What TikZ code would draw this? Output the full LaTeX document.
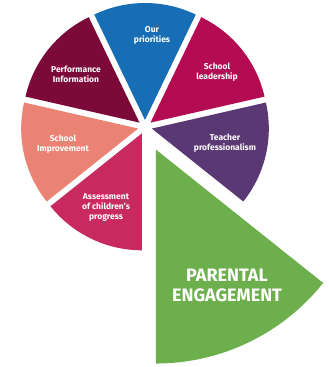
\documentclass[tikz,border=0pt]{standalone}
\usepackage{fontspec}
\setsansfont{Fira Sans}
\usetikzlibrary{calc}

\definecolor{ourblue}{RGB}{24,110,180}
\definecolor{leadred}{RGB}{180,12,82}
\definecolor{teachpurple}{RGB}{90,56,116}
\definecolor{parentgreen}{RGB}{108,175,76}
\definecolor{assesspink}{RGB}{200,42,96}
\definecolor{improvesalmon}{RGB}{234,131,116}
\definecolor{perfmaroon}{RGB}{124,10,56}

\begin{document}
\begin{tikzpicture}[x=1pt,y=1pt]
\tikzset{
slice/.style={draw=none},
mylabel/.style={text=white, font=\sffamily\bfseries\fontsize{8.5}{10}\selectfont, align=center, inner sep=0pt},
biglabel/.style={text=white, font=\sffamily\bfseries\fontsize{18}{20}\selectfont, align=center, inner sep=0pt},
}
\useasboundingbox (0,0) rectangle (329,-367);
\coordinate (c) at (145,-127);

% small slices, each pushed out a little along its middle
\fill[slice, fill=ourblue] ($(c)+(90:7)$) -- ++(64.29:117) arc[start angle=64.29, end angle=115.71, radius=117] -- cycle;
\fill[slice, fill=leadred] ($(c)+(38.57:7)$) -- ++(12.86:117) arc[start angle=12.86, end angle=64.29, radius=117] -- cycle;
\fill[slice, fill=teachpurple] ($(c)+(-12.86:7)$) -- ++(-38.57:117) arc[start angle=-38.57, end angle=12.86, radius=117] -- cycle;
\fill[slice, fill=perfmaroon] ($(c)+(141.43:7)$) -- ++(115.71:117) arc[start angle=115.71, end angle=167.14, radius=117] -- cycle;
\fill[slice, fill=improvesalmon] ($(c)+(192.86:7)$) -- ++(167.14:117) arc[start angle=167.14, end angle=218.57, radius=117] -- cycle;
\fill[slice, fill=assesspink] ($(c)+(244.29:7)$) -- ++(218.57:117) arc[start angle=218.57, end angle=270, radius=117] -- cycle;
% the big one
\fill[slice, fill=parentgreen] ($(c)+(-64.29:25)$) -- ++(-90:214) arc[start angle=-90, end angle=-38.57, radius=214] -- cycle;

\node[mylabel] (ourpri) at (152,-35) {Our\\priorities};
\node[mylabel] (leader) at (217,-72) {School\\leadership};
\node[mylabel] (teacher) at (225,-143) {Teacher\\professionalism};
\node[mylabel] (perf) at (76,-74) {Performance\\Information};
\node[mylabel] (improve) at (63,-144) {School\\Improvement};
\node[mylabel] (assess) at (106,-207) {Assessment\\of children's\\progress};
\node[biglabel] (parental) at (227,-285) {PARENTAL\\ENGAGEMENT};
\end{tikzpicture}
\end{document}
